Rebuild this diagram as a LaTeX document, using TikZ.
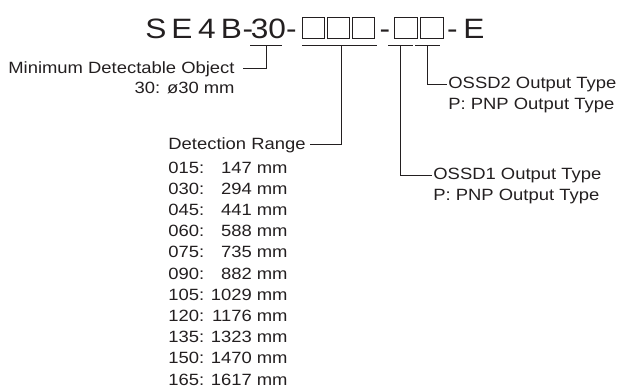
\documentclass[tikz,border=0pt]{standalone}
\usepackage{fontspec}
\setmainfont{Liberation Sans}[FakeStretch=1.13]
\usetikzlibrary{positioning}
\definecolor{scInk}{RGB}{35,31,32}

\begin{document}
\begin{tikzpicture}[x=0.5pt,y=-0.5pt,
  txt/.style={inner sep=0pt,font=\fontsize{8.15}{10}\selectfont,text=scInk},
  tchar/.style={inner sep=0pt,anchor=base,font=\fontsize{14}{16}\selectfont,text=scInk},
  slot/.style={draw=scInk,line width=0.5pt,minimum width=11.25pt,
               minimum height=10.5pt,inner sep=0pt},
  ln/.style={draw=scInk,line width=0.5pt}]
\path[use as bounding box] (0,0) rectangle (621,387);

% model code
\foreach \ch/\cx [count=\i] in {S/156,E/182,4/207,B/231.5,-/248,-/291.5,-/385,-/452.5,E/474}
  \node[tchar] (t\i) at (\cx,38) {\ch};
\node[tchar] (dia) at (268.5,38) {30};
\foreach \bx [count=\i] in {313.5,338.5,363.5}
  \node[slot] (r\i) at (\bx,27.5) {};
\foreach \bx [count=\i] in {406,432}
  \node[slot] (o\i) at (\bx,27.5) {};

% underlines
\coordinate (s30) at (266,45);
\coordinate (sR) at (341,45);
\coordinate (s1) at (400,45);
\coordinate (s2) at (427,45);
\draw[ln] (250,45) -- (282,45);
\draw[ln] (302,45) -- (377,45);
\draw[ln] (388,45) -- (413,45);
\draw[ln] (415,45) -- (440,45);

% minimum detectable object
\node[txt,anchor=base east] (mdo) at (235,73) {Minimum Detectable Object};
\node[txt,anchor=base east] (mdo30) at (235,93) {30: ø30 mm};
\draw[ln,shorten >=4pt] (s30) |- (mdo.east);

% detection range
\node[txt,anchor=base west] (range) at (168,149) {Detection Range};
\foreach \c/\v [count=\i from 0] in {015/147,030/294,045/441,060/588,075/735,
    090/882,105/1029,120/1176,135/1323,150/1470,165/1617}{
  \node[txt,anchor=base west] (c\i) at (168,173+21.2*\i) {\c:};
  \node[txt,anchor=base east] (v\i) at (288,173+21.2*\i) {\v\ mm};
}
\draw[ln,shorten >=2pt] (sR) |- (range.east);

% outputs
\node[txt,anchor=base west] (ossd1) at (433,179) {OSSD1 Output Type};
\node[txt,anchor=base west] (pnp1) at (433,200) {P: PNP Output Type};
\draw[ln,shorten >=0.5pt] (s1) |- (ossd1.west);

\node[txt,anchor=base west] (ossd2) at (448,88) {OSSD2 Output Type};
\node[txt,anchor=base west] (pnp2) at (448,109) {P: PNP Output Type};
\draw[ln,shorten >=0.5pt] (s2) |- (ossd2.west);
\end{tikzpicture}
\end{document}
